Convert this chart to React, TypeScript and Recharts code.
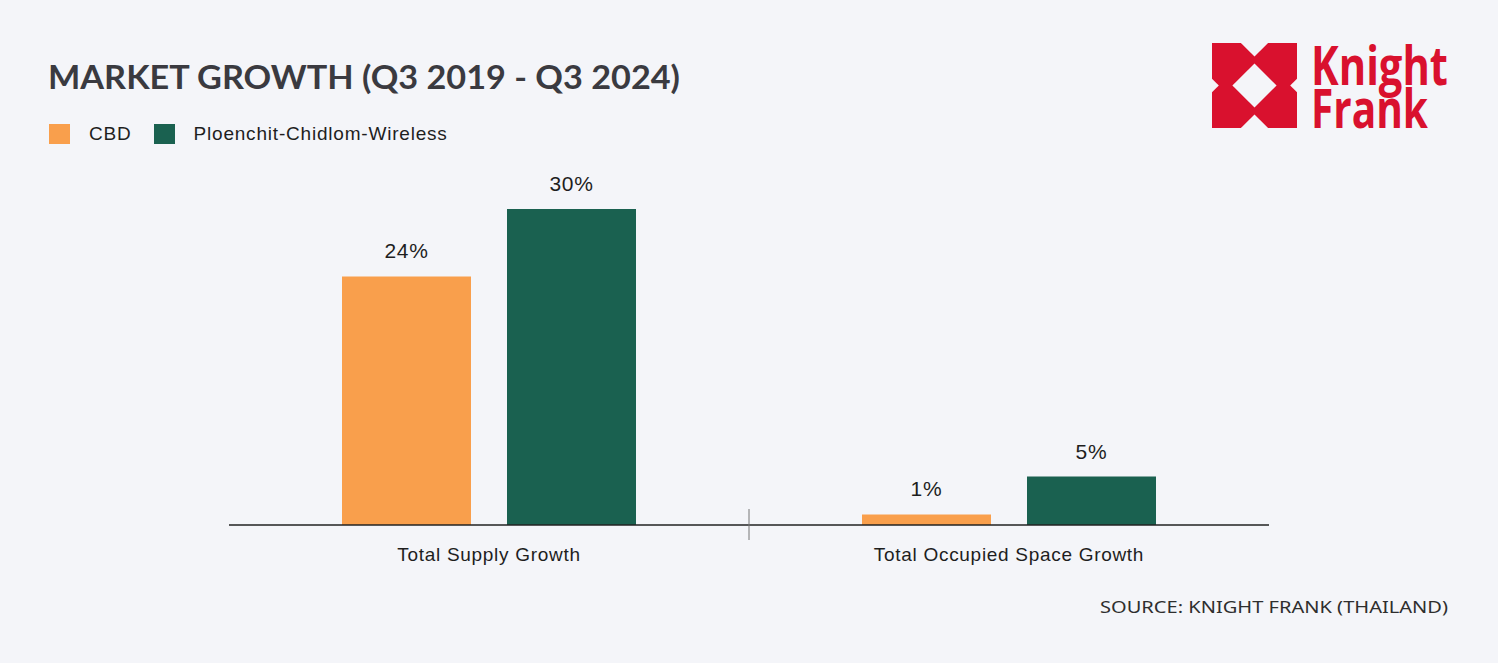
import { BarChart, Bar, XAxis, YAxis, LabelList } from 'recharts';

const categories = ['Total Supply Growth', 'Total Occupied Space Growth'];
const seriesNames = ['CBD', 'Ploenchit-Chidlom-Wireless'];
const cbdValues = [23.6, 1.0];
const pcwValues = [30, 4.6];

const COLORS = ['#F99F4C', '#1A6150'];

const data = categories.map((name, i) => ({ name, cbd: cbdValues[i], pcw: pcwValues[i] }));

const CategoryTick = (props: any) => {
  const { x, y, payload, index } = props;
  const half = payload.offset || 0;
  return (
    <g>
      {index > 0 && (
        <line x1={x - half} x2={x - half} y1={y - 16} y2={y + 15} stroke="#777" strokeWidth={1} />
      )}
      <text x={x} y={y + 36} textAnchor="middle" fontSize={19} letterSpacing={0.7} fill="#1e1e1e" fontFamily="Liberation Sans, Arial, sans-serif">
        {payload.value}
      </text>
    </g>
  );
};

const ChartLegend = () => (
  <div style={{ position: 'absolute', left: 49, top: 124, display: 'flex', alignItems: 'center', fontFamily: 'Liberation Sans, Arial, sans-serif', fontSize: 19, letterSpacing: 0.8, color: '#1e1e1e', lineHeight: '20px' }}>
    {seriesNames.map((name, i) => (
      <div key={`leg-${i}`} style={{ display: 'flex', alignItems: 'center', marginRight: 22 }}>
        <span style={{ width: 21, height: 20, background: COLORS[i], display: 'inline-block', marginRight: 19 }} />
        <span>{name}</span>
      </div>
    ))}
  </div>
);

const Logo = () => {
  const s = 85;
  const p = (pts: number[][]) => pts.map(([a, b]) => `${1212 + a * s},${43 + b * s}`).join(' ');
  return (
    <g>
      <rect x={1212} y={43} width={s} height={s} fill="#D9112E" />
      <polygon points={p([[0.5, 0.24], [0.76, 0.5], [0.5, 0.76], [0.24, 0.5]])} fill="#f4f5f9" />
      <polygon points={p([[0.34, 0], [0.66, 0], [0.5, 0.16]])} fill="#f4f5f9" />
      <polygon points={p([[0.34, 1], [0.66, 1], [0.5, 0.84]])} fill="#f4f5f9" />
      <polygon points={p([[0, 0.42], [0.08, 0.5], [0, 0.58]])} fill="#f4f5f9" />
      <polygon points={p([[1, 0.42], [0.92, 0.5], [1, 0.58]])} fill="#f4f5f9" />
      <text x={1311} y={85} fontSize={54} fontWeight={700} fill="#D9112E" fontFamily="Open Sans, sans-serif" textLength={137} lengthAdjust="spacingAndGlyphs">Knight</text>
      <text x={1311} y={128} fontSize={54} fontWeight={700} fill="#D9112E" fontFamily="Open Sans, sans-serif" textLength={117} lengthAdjust="spacingAndGlyphs">Frank</text>
    </g>
  );
};

export default function App() {
  return (
    <div style={{ position: 'absolute', left: 0, top: 0, width: 1498, height: 663, background: '#f4f5f9', overflow: 'hidden' }}>
      <svg width={1498} height={663} style={{ position: 'absolute', left: 0, top: 0 }}>
        <text x={48} y={89} fontSize={32} fontWeight={700} fill="#3a3a40" fontFamily="Lato, sans-serif" textLength={632} lengthAdjust="spacingAndGlyphs">
          MARKET GROWTH (Q3 2019 - Q3 2024)
        </text>
        <Logo />
        <text x={1100} y={613} fontSize={17} fill="#2e2e2e" fontFamily="Noto Sans, Open Sans, sans-serif" textLength={348} lengthAdjust="spacingAndGlyphs">
          SOURCE: KNIGHT FRANK (THAILAND)
        </text>
      </svg>
      <ChartLegend />
      <div style={{ position: 'absolute', left: 0, top: 0 }}>
        <BarChart width={1498} height={663} data={data} margin={{ top: 209, right: 229, bottom: 108, left: 229 }} barGap={36}>
          <XAxis
            dataKey="name"
            height={30}
            axisLine={{ stroke: '#222', strokeWidth: 1.5 }}
            tickLine={false}
            tickSize={0}
            tickMargin={0}
            interval={0}
            tick={<CategoryTick />}
          />
          <YAxis hide domain={[0, 30]} />
          <Bar dataKey="cbd" name={seriesNames[0]} fill={COLORS[0]} barSize={129} isAnimationActive={false}>
            <LabelList dataKey="cbd" position="top" offset={18} fontSize={21} letterSpacing={0.7} fill="#1e1e1e" fontFamily="Liberation Sans, Arial, sans-serif" formatter={(v: any) => `${Math.round(Number(v))}%`} />
          </Bar>
          <Bar dataKey="pcw" name={seriesNames[1]} fill={COLORS[1]} barSize={129} isAnimationActive={false}>
            <LabelList dataKey="pcw" position="top" offset={18} fontSize={21} letterSpacing={0.7} fill="#1e1e1e" fontFamily="Liberation Sans, Arial, sans-serif" formatter={(v: any) => `${Math.round(Number(v))}%`} />
          </Bar>
        </BarChart>
      </div>
    </div>
  );
}
